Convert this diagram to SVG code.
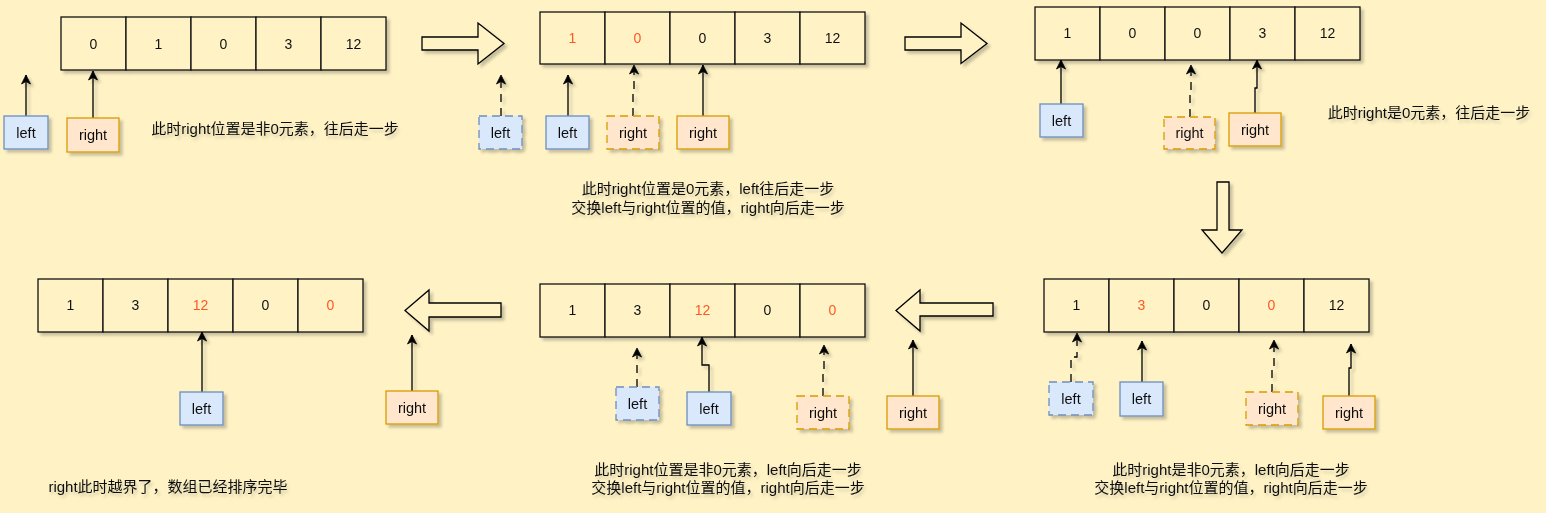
<svg xmlns="http://www.w3.org/2000/svg" width="1546" height="513" viewBox="0 0 1546 513">
<defs>
<filter id="sh" x="-20%" y="-20%" width="150%" height="160%">
<feDropShadow dx="3" dy="3" stdDeviation="1.6" flood-color="#000" flood-opacity="0.22"/>
</filter>
<filter id="tsh" x="-10%" y="-30%" width="130%" height="180%">
<feDropShadow dx="2" dy="3" stdDeviation="1.5" flood-color="#000" flood-opacity="0.18"/>
</filter>
<marker id="arr" viewBox="0 0 10 10" refX="9.5" refY="5" markerWidth="10" markerHeight="10" markerUnits="userSpaceOnUse" orient="auto">
<path d="M0.5,0.5 L9.5,5 L0.5,9.5 L3,5 z" fill="#000" stroke="#000" stroke-width="0.8"/>
</marker>
<style>
.bg{fill:#FFF3C6}
.cell{fill:#FFF3C6;stroke:#111;stroke-width:1.3}
.num{font-family:"Liberation Sans","Noto Sans CJK SC",sans-serif;font-size:14px;fill:#111;text-anchor:middle;dominant-baseline:central}
.red{fill:#FF5722}
.lbox{fill:#DAE8FC;stroke:#6C8EBF;stroke-width:1.3}
.rbox{fill:#FFE6CC;stroke:#D79B00;stroke-width:1.3}
.dash{stroke-dasharray:8 5}
.lbl{font-family:"Liberation Sans","Noto Sans CJK SC",sans-serif;font-size:14.5px;fill:#111;text-anchor:middle;dominant-baseline:central}
.edge{fill:none;stroke:#000;stroke-width:1.3;marker-end:url(#arr)}
.dedge{stroke-dasharray:8 6}
.big{fill:#FFF3C6;stroke:#000;stroke-width:1.3}
.note{font-family:"Liberation Sans","Noto Sans CJK SC",sans-serif;font-size:15px;fill:#111;text-anchor:middle;dominant-baseline:central}
.sh{filter:url(#sh)}
.tsh{filter:url(#tsh)}
</style>
</defs>
<rect class="bg" x="0" y="0" width="1546" height="513"/>

<!-- Panel 1 array -->
<g id="array1" class="sh">
<rect class="cell" x="61" y="17" width="65" height="53"/><rect class="cell" x="126" y="17" width="65" height="53"/><rect class="cell" x="191" y="17" width="65" height="53"/><rect class="cell" x="256" y="17" width="65" height="53"/><rect class="cell" x="321" y="17" width="65" height="53"/>
<text class="num" x="93.5" y="44">0</text><text class="num" x="158.5" y="44">1</text><text class="num" x="223.5" y="44">0</text><text class="num" x="288.5" y="44">3</text><text class="num" x="353.5" y="44">12</text>
</g>
<!-- Panel 2 array -->
<g id="array2" class="sh">
<rect class="cell" x="540" y="12" width="65" height="52"/><rect class="cell" x="605" y="12" width="65" height="52"/><rect class="cell" x="670" y="12" width="65" height="52"/><rect class="cell" x="735" y="12" width="65" height="52"/><rect class="cell" x="800" y="12" width="65" height="52"/>
<text class="num red" x="572.5" y="38">1</text><text class="num red" x="637.5" y="38">0</text><text class="num" x="702.5" y="38">0</text><text class="num" x="767.5" y="38">3</text><text class="num" x="832.5" y="38">12</text>
</g>
<!-- Panel 3 array -->
<g id="array3" class="sh">
<rect class="cell" x="1035" y="7" width="65" height="53"/><rect class="cell" x="1100" y="7" width="65" height="53"/><rect class="cell" x="1165" y="7" width="65" height="53"/><rect class="cell" x="1230" y="7" width="65" height="53"/><rect class="cell" x="1295" y="7" width="65" height="53"/>
<text class="num" x="1067.5" y="33">1</text><text class="num" x="1132.5" y="33">0</text><text class="num" x="1197.5" y="33">0</text><text class="num" x="1262.5" y="33">3</text><text class="num" x="1327.5" y="33">12</text>
</g>
<!-- Panel 4 array -->
<g id="array4" class="sh">
<rect class="cell" x="1044" y="279" width="65" height="53"/><rect class="cell" x="1109" y="279" width="65" height="53"/><rect class="cell" x="1174" y="279" width="65" height="53"/><rect class="cell" x="1239" y="279" width="65" height="53"/><rect class="cell" x="1304" y="279" width="65" height="53"/>
<text class="num" x="1076.5" y="305">1</text><text class="num red" x="1141.5" y="305">3</text><text class="num" x="1206.5" y="305">0</text><text class="num red" x="1271.5" y="305">0</text><text class="num" x="1336.5" y="305">12</text>
</g>
<!-- Panel 5 array -->
<g id="array5" class="sh">
<rect class="cell" x="540" y="284" width="65" height="53"/><rect class="cell" x="605" y="284" width="65" height="53"/><rect class="cell" x="670" y="284" width="65" height="53"/><rect class="cell" x="735" y="284" width="65" height="53"/><rect class="cell" x="800" y="284" width="65" height="53"/>
<text class="num" x="572.5" y="310">1</text><text class="num" x="637.5" y="310">3</text><text class="num red" x="702.5" y="310">12</text><text class="num" x="767.5" y="310">0</text><text class="num red" x="832.5" y="310">0</text>
</g>
<!-- Panel 6 array -->
<g id="array6" class="sh">
<rect class="cell" x="38" y="279" width="65" height="53"/><rect class="cell" x="103" y="279" width="65" height="53"/><rect class="cell" x="168" y="279" width="65" height="53"/><rect class="cell" x="233" y="279" width="65" height="53"/><rect class="cell" x="298" y="279" width="65" height="53"/>
<text class="num" x="70.5" y="305">1</text><text class="num" x="135.5" y="305">3</text><text class="num red" x="200.5" y="305">12</text><text class="num" x="265.5" y="305">0</text><text class="num red" x="330.5" y="305">0</text>
</g>

<!-- Big step arrows -->
<g id="step1" class="sh"><polygon class="big" points="422,37 478,37 478,23 504,43.5 478,64 478,50 422,50"/></g>
<g id="step2" class="sh"><polygon class="big" points="905,37 961,37 961,23 987,43.5 961,63.5 961,50 905,50"/></g>
<g id="step3" class="sh"><polygon class="big" points="1217,182 1229,182 1229,230 1242,230 1222,253 1202,230 1217,230"/></g>
<g id="step4" class="sh"><polygon class="big" points="993,303 920,303 920,290 896,310.5 920,331 920,316 993,316"/></g>
<g id="step5" class="sh"><polygon class="big" points="501,303 429,303 429,290 405,310.5 429,331 429,317 501,317"/></g>

<!-- Connectors -->
<g id="connectors" class="sh">
<path class="edge" d="M26,116 V75"/>
<path class="edge" d="M93,118 V71"/>
<path class="edge dedge" d="M501,116 V75"/>
<path class="edge" d="M568,116 V75"/>
<path class="edge dedge" d="M633,116 V92 H634 V65"/>
<path class="edge" d="M703,116 V65"/>
<path class="edge" d="M1061,104 V60"/>
<path class="edge dedge" d="M1190,117 V90 H1191 V65"/>
<path class="edge" d="M1255,113 V88 H1257 V60"/>
<path class="edge dedge" d="M1071,382 V357 H1077 V333"/>
<path class="edge" d="M1142,382 V341"/>
<path class="edge dedge" d="M1272,392 V367 H1274 V340"/>
<path class="edge" d="M1349,396 V368 H1351 V344"/>
<path class="edge dedge" d="M637,387 V348"/>
<path class="edge" d="M709,392 V365 H702 V337"/>
<path class="edge dedge" d="M823,396 V370 H824 V345"/>
<path class="edge" d="M913,396 V340"/>
<path class="edge" d="M202,392 V332"/>
<path class="edge" d="M412,391 V335"/>
</g>

<!-- Pointer boxes -->
<g id="p1-left" class="sh"><rect class="lbox" x="4" y="116" width="44" height="33"/><text class="lbl" x="26" y="132.5">left</text></g>
<g id="p1-right" class="sh"><rect class="rbox" x="67" y="118" width="52" height="34"/><text class="lbl" x="93" y="135">right</text></g>

<g id="p2-left-old" class="sh"><rect class="lbox dash" x="479" y="116" width="43" height="33"/><text class="lbl" x="500.5" y="132.5">left</text></g>
<g id="p2-left" class="sh"><rect class="lbox" x="546" y="116" width="43" height="33"/><text class="lbl" x="567.5" y="132.5">left</text></g>
<g id="p2-right-old" class="sh"><rect class="rbox dash" x="607" y="116" width="52" height="33"/><text class="lbl" x="633" y="132.5">right</text></g>
<g id="p2-right" class="sh"><rect class="rbox" x="677" y="116" width="52" height="33"/><text class="lbl" x="703" y="132.5">right</text></g>

<g id="p3-left" class="sh"><rect class="lbox" x="1040" y="104" width="43" height="33"/><text class="lbl" x="1061.5" y="120.5">left</text></g>
<g id="p3-right-old" class="sh"><rect class="rbox dash" x="1164" y="117" width="51" height="32"/><text class="lbl" x="1189.5" y="133">right</text></g>
<g id="p3-right" class="sh"><rect class="rbox" x="1229" y="113" width="52" height="33"/><text class="lbl" x="1255" y="129.5">right</text></g>

<g id="p4-left-old" class="sh"><rect class="lbox dash" x="1049" y="382" width="44" height="33"/><text class="lbl" x="1071" y="398.5">left</text></g>
<g id="p4-left" class="sh"><rect class="lbox" x="1120" y="382" width="43" height="34"/><text class="lbl" x="1141.5" y="399">left</text></g>
<g id="p4-right-old" class="sh"><rect class="rbox dash" x="1246" y="392" width="52" height="33"/><text class="lbl" x="1272" y="408.5">right</text></g>
<g id="p4-right" class="sh"><rect class="rbox" x="1323" y="396" width="52" height="33"/><text class="lbl" x="1349" y="412.5">right</text></g>

<g id="p5-left-old" class="sh"><rect class="lbox dash" x="616" y="387" width="43" height="33"/><text class="lbl" x="637.5" y="403.5">left</text></g>
<g id="p5-left" class="sh"><rect class="lbox" x="687" y="392" width="44" height="33"/><text class="lbl" x="709" y="408.5">left</text></g>
<g id="p5-right-old" class="sh"><rect class="rbox dash" x="797" y="396" width="52" height="33"/><text class="lbl" x="823" y="412.5">right</text></g>
<g id="p5-right" class="sh"><rect class="rbox" x="887" y="396" width="52" height="33"/><text class="lbl" x="913" y="412.5">right</text></g>

<g id="p6-left" class="sh"><rect class="lbox" x="180" y="392" width="43" height="33"/><text class="lbl" x="201.5" y="408.5">left</text></g>
<g id="p6-right" class="sh"><rect class="rbox" x="386" y="391" width="52" height="33"/><text class="lbl" x="412" y="407.5">right</text></g>

<!-- Notes -->
<g id="note1" class="tsh"><text class="note" x="275" y="128">此时right位置是非0元素，往后走一步</text></g>
<g id="note2" class="tsh"><text class="note" x="708" y="188">此时right位置是0元素，left往后走一步</text><text class="note" x="708" y="207">交换left与right位置的值，right向后走一步</text></g>
<g id="note3" class="tsh"><text class="note" x="1429" y="112">此时right是0元素，往后走一步</text></g>
<g id="note4" class="tsh"><text class="note" x="1231" y="469">此时right是非0元素，left向后走一步</text><text class="note" x="1231" y="487">交换left与right位置的值，right向后走一步</text></g>
<g id="note5" class="tsh"><text class="note" x="728" y="469">此时right位置是非0元素，left向后走一步</text><text class="note" x="728" y="487">交换left与right位置的值，right向后走一步</text></g>
<g id="note6" class="tsh"><text class="note" x="168" y="486">right此时越界了，数组已经排序完毕</text></g>
</svg>
